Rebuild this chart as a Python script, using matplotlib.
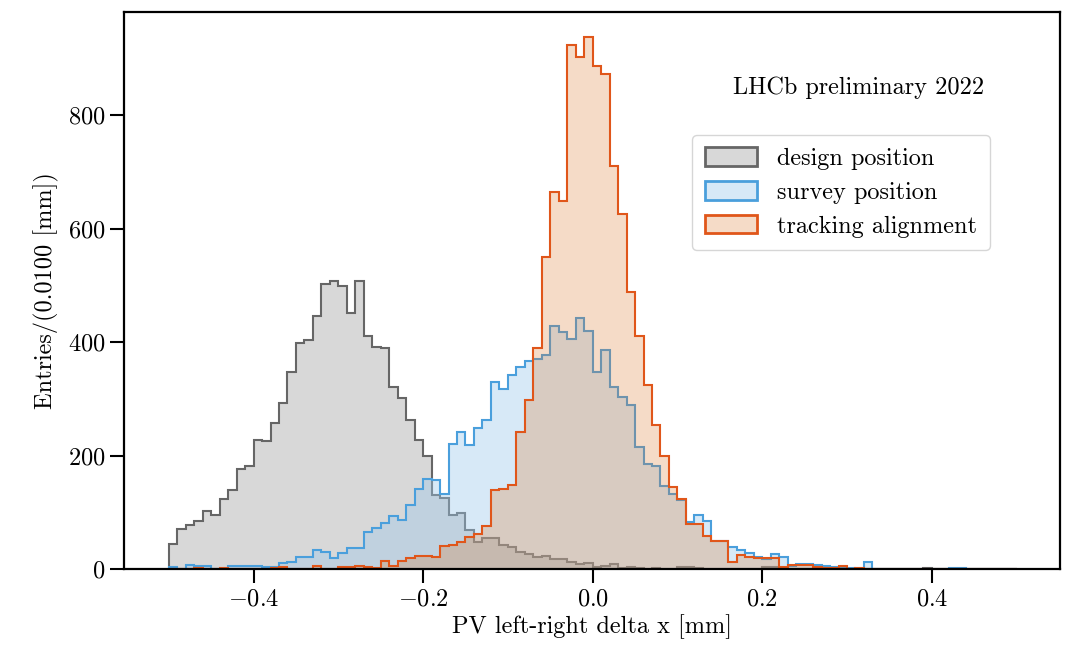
import matplotlib
matplotlib.use("Agg")
import matplotlib.pyplot as plt
from matplotlib.patches import Patch
import numpy as np

plt.rcParams['font.family'] = 'serif'
plt.rcParams['font.serif'] = ['cmr10', 'DejaVu Serif']
plt.rcParams['mathtext.fontset'] = 'cm'
plt.rcParams['axes.formatter.use_mathtext'] = True

# bins of 0.01 mm from -0.5 to 0.5
edges = np.round(np.arange(-0.50, 0.5001, 0.01), 2)

design = [
    44, 71, 78, 85, 102, 96, 124, 140, 176, 182,
    227, 226, 257, 293, 348, 399, 404, 446, 502, 508,
    499, 452, 508, 410, 392, 389, 320, 301, 263, 227,
    200, 130, 126, 96, 99, 69, 48, 54, 54, 42,
    39, 30, 26, 21, 23, 17, 18, 12, 9, 10,
    3, 6, 9, 2, 3, 2, 1, 2, 1, 1,
    3, 3, 2, 1, 1, 1, 0, 1, 0, 1,
    3, 3, 1, 0, 1, 0, 0, 1, 0, 0,
    0, 0, 0, 0, 0, 0, 0, 0, 0, 2,
    0, 0, 0, 0, 0, 0, 0, 0, 0, 0,
]

survey = [
    4, 1, 8, 6, 5, 1, 1, 5, 5, 6,
    5, 3, 3, 11, 12, 21, 21, 33, 30, 19,
    28, 38, 38, 66, 72, 81, 93, 86, 113, 142,
    159, 157, 132, 221, 241, 219, 248, 263, 330, 318,
    342, 356, 367, 370, 377, 429, 418, 405, 443, 420,
    348, 386, 321, 303, 289, 216, 185, 182, 147, 132,
    122, 83, 95, 85, 49, 49, 39, 33, 28, 22,
    18, 26, 22, 6, 9, 9, 7, 6, 4, 2,
    2, 1, 13, 1, 1, 0, 1, 0, 1, 0,
    1, 0, 2, 2, 0, 1, 0, 0, 1, 0,
]

tracking = [
    0, 0, 0, 2, 1, 0, 2, 1, 1, 1,
    0, 1, 2, 4, 1, 1, 1, 5, 1, 1,
    4, 4, 5, 3, 2, 14, 5, 14, 19, 23,
    23, 22, 41, 42, 48, 57, 62, 76, 139, 141,
    148, 241, 298, 390, 549, 664, 649, 923, 903, 937,
    886, 872, 710, 626, 488, 410, 325, 254, 200, 145,
    123, 80, 80, 59, 49, 49, 12, 25, 22, 19,
    19, 19, 4, 7, 7, 7, 4, 2, 2, 6,
    1, 2, 1, 1, 0, 1, 0, 1, 1, 0,
    1, 1, 1, 1, 1, 1, 1, 1, 1, 0,
]

labels = ['design position', 'survey position', 'tracking alignment']
edge_colors = ['#666666', '#4a9fdc', '#e0561a']
fill_colors = ['#676767', '#9dc8eb', '#db7323']
fill_alpha = [0.25, 0.4, 0.25]

fig = plt.figure(figsize=(10.77, 6.46), dpi=100)
ax = fig.add_axes([0.115, 0.119, 0.869, 0.862])

handles = []
for vals, lab, ec, fc, a in zip([design, survey, tracking], labels, edge_colors, fill_colors, fill_alpha):
    ax.stairs(vals, edges, fill=True, color=fc, alpha=a, lw=0)
    ax.stairs(vals, edges, color=ec, lw=1.5)
    handles.append(Patch(facecolor=matplotlib.colors.to_rgba(fc, a), edgecolor=ec, lw=2, label=lab))

ax.set_xlim(-0.553, 0.551)
ax.set_ylim(0, 981)
ax.set_xticks([-0.4, -0.2, 0.0, 0.2, 0.4])
ax.set_yticks([0, 200, 400, 600, 800])
ax.tick_params(direction='out', length=10, width=1.5, labelsize=17.5, top=False, right=False)
for s in ax.spines.values():
    s.set_linewidth(1.6)

ax.set_xlabel('PV left-right delta x [mm]', fontsize=17.5, labelpad=3)
ax.set_ylabel('Entries/(0.0100 [mm])', fontsize=17.5, labelpad=6)

ax.text(0.785, 0.865, 'LHCb preliminary 2022', transform=ax.transAxes,
        ha='center', va='center', fontsize=17.5)
ax.legend(handles=handles, loc='upper right', bbox_to_anchor=(0.925, 0.779),
          borderaxespad=0, fontsize=17.5, frameon=True, handlelength=2.15,
          handleheight=0.8, borderpad=0.5, labelspacing=0.45, handletextpad=0.85,
          fancybox=True)

fig.savefig('out.png', dpi=100)
